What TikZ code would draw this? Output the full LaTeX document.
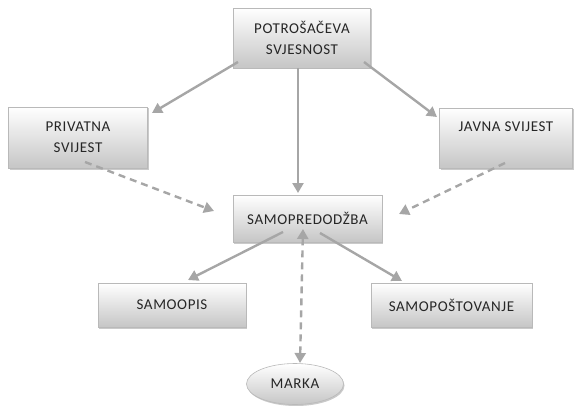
\documentclass[tikz,border=0pt]{standalone}
\usepackage{fontspec}
\setmainfont{Carlito}[LetterSpace=4]
\usetikzlibrary{shapes.geometric,arrows.meta,shadows}
\definecolor{txt}{HTML}{262626}
\definecolor{arr}{HTML}{A6A6A6}
\tikzset{
  boxnode/.style={rectangle, draw=gray!55, line width=0.6pt, top color=white, bottom color=gray!45,
    drop shadow={shadow xshift=1pt, shadow yshift=-1.5pt, fill=gray!70, opacity=0.6},
    font=\fontsize{15}{21}\selectfont, text=txt, align=center, inner sep=0pt},
  ovalnode/.style={ellipse, draw=gray!55, line width=0.6pt, top color=white, bottom color=gray!45,
    drop shadow={shadow xshift=1pt, shadow yshift=-1.5pt, fill=gray!70, opacity=0.6},
    font=\fontsize{15}{21}\selectfont, text=txt, inner sep=0pt},
  solidarr/.style={draw=arr, line width=2.4pt, -{Triangle[length=10pt,width=11pt]}},
  dasharr/.style={draw=arr, line width=2.4pt, dash pattern=on 7pt off 5pt, -{Triangle[length=10pt,width=11pt]}},
  dashboth/.style={draw=arr, line width=2.4pt, dash pattern=on 7pt off 5pt, {Triangle[length=10pt,width=11pt]}-{Triangle[length=10pt,width=11pt]}}
}
\begin{document}
\begin{tikzpicture}[x=1pt,y=-1pt]
\useasboundingbox (0,0) rectangle (577,406);
\node[boxnode, minimum width=137pt, minimum height=60pt] (pot) at (302,38) {POTROŠAČEVA\\SVJESNOST};
\node[boxnode, minimum width=139pt, minimum height=61pt] (priv) at (78,137.5) {PRIVATNA\\SVIJEST};
\node[boxnode, minimum width=133pt, minimum height=60pt, text depth=22pt] (jav) at (506,138) {JAVNA SVIJEST};
\node[boxnode, minimum width=149pt, minimum height=47pt] (samo) at (307.5,218.5) {SAMOPREDODŽBA};
\node[boxnode, minimum width=148pt, minimum height=44pt] (opis) at (172,305) {SAMOOPIS};
\node[boxnode, minimum width=161pt, minimum height=44pt] (post) at (451.5,305) {SAMOPOŠTOVANJE};
\node[ovalnode, minimum width=97pt, minimum height=41pt] (marka) at (295,384) {MARKA};
\coordinate (p1) at (238,62);
\coordinate (p1e) at (152,113);
\coordinate (p2) at (298,68);
\coordinate (p2e) at (298,193);
\coordinate (p3) at (364,62);
\coordinate (p3e) at (437,117);
\coordinate (v1) at (85,162);
\coordinate (v1e) at (214,211);
\coordinate (j1) at (505,163);
\coordinate (j1e) at (399,214);
\coordinate (s1) at (283,232);
\coordinate (s1e) at (188,280);
\coordinate (s2) at (320,233);
\coordinate (s2e) at (402,281);
\coordinate (m1) at (303,229);
\coordinate (m1e) at (300,363);
\draw[solidarr] (p1) -- (p1e);
\draw[solidarr] (p2) -- (p2e);
\draw[solidarr] (p3) -- (p3e);
\draw[dasharr] (v1) -- (v1e);
\draw[dasharr] (j1) -- (j1e);
\draw[solidarr] (s1) -- (s1e);
\draw[solidarr] (s2) -- (s2e);
\draw[dashboth] (m1) -- (m1e);
\end{tikzpicture}
\end{document}
